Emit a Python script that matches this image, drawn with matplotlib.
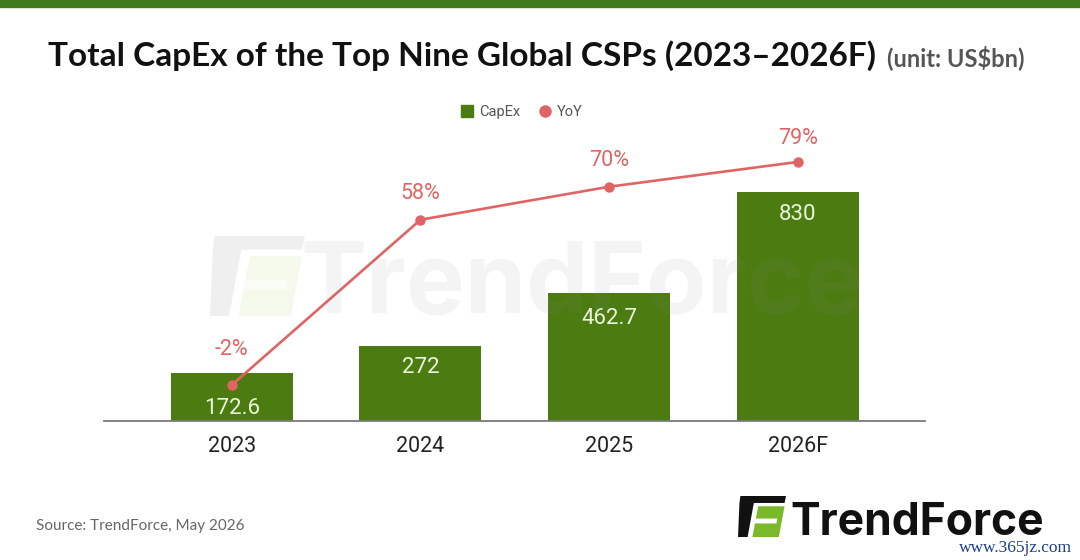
import numpy as np
import matplotlib.pyplot as plt
from matplotlib.patches import Polygon, Rectangle
from matplotlib.lines import Line2D

plt.rcParams['font.family'] = ['Roboto', 'DejaVu Sans']

# data
years = ['2023', '2024', '2025', '2026F']
capex = [172.6, 272, 462.7, 830]
yoy = [-2, 58, 70, 79]
capex_labels = ['172.6', '272', '462.7', '830']
yoy_labels = ['-2%', '58%', '70%', '79%']

GREEN = '#4b7b11'
RED = '#e06464'
W, H = 1080, 560

fig = plt.figure(figsize=(W / 100, H / 100), dpi=100)

# main chart area
ax = fig.add_axes([104 / W, (H - 420.7) / H, 821 / W, 320.7 / H])
x = np.arange(len(years))
ax.bar(x, capex, width=0.647, color=GREEN, zorder=2)
ax.set_xlim(-0.678, 3.675)
ax.set_ylim(0, 1165)
ax.set_xticks(x)
ax.set_xticklabels(years, fontsize=15.5, color='#222222')
ax.tick_params(axis='x', length=0, pad=11)
ax.set_yticks([])
for s in ['top', 'left', 'right']:
    ax.spines[s].set_visible(False)
ax.spines['bottom'].set_color('#7a7a7a')
ax.spines['bottom'].set_linewidth(1.3)

# bar values, inside top of bars
bar_off = [35, 22, 25, 22]
for xi, v, lab, off in zip(x, capex, capex_labels, bar_off):
    ax.annotate(lab, (xi, v), xytext=(0, -off * 0.72), textcoords='offset points',
                ha='center', va='center', fontsize=16, color='#eaf6dc', zorder=3)

# yoy line on secondary axis
ax2 = ax.twinx()
ax2.set_ylim(-15, 101.5)
ax2.plot(x, yoy, color=RED, lw=1.9, marker='o', ms=6.5, zorder=4)
ax2.set_yticks([])
for s in ax2.spines.values():
    s.set_visible(False)
yoy_off = [35, 26, 26, 23]
for xi, v, lab, off in zip(x, yoy, yoy_labels, yoy_off):
    ax2.annotate(lab, (xi, v), xytext=(0, off * 0.72), textcoords='offset points',
                 ha='center', va='center', fontsize=15.5, color=RED)

# legend
handles = [Line2D([], [], marker='s', ls='none', color=GREEN, ms=8),
           Line2D([], [], marker='o', ls='none', color=RED, ms=8)]
fig.legend(handles, ['CapEx', 'YoY'], loc='center', bbox_to_anchor=(521 / W, 1 - 112 / H),
           ncol=2, frameon=False, fontsize=10.5, labelcolor='#555555',
           handletextpad=0.3, columnspacing=1.2, handlelength=1.0)

# decoration layer in pixel coordinates
deco = fig.add_axes([0, 0, 1, 1], zorder=5)
deco.set_xlim(0, W)
deco.set_ylim(H, 0)
deco.axis('off')
deco.patch.set_alpha(0)

deco.add_patch(Rectangle((0, 0), W, 7, color='#3e7a1d'))

deco.text(48, 66, 'Total CapEx of the Top Nine Global CSPs (2023\u20132026F)',
          family=['Lato', 'DejaVu Sans'], fontweight='bold', fontsize=24,
          color='#111111', ha='left', va='baseline')
deco.text(887, 66, '(unit: US$bn)', family=['Lato', 'DejaVu Sans'], fontweight='bold',
          fontsize=17, color='#555555', ha='left', va='baseline')

deco.text(36, 526, 'Source: TrendForce, May 2026', family=['Lato', 'DejaVu Sans'],
          fontsize=11, color='#666666', ha='left', va='center')


def logo(x0, y0, w, h, dark, light, alpha=1.0):
    def pts(p):
        return [(x0 + a * w, y0 + b * h) for a, b in p]
    deco.add_patch(Polygon(pts([(0.05, 0), (1.0, 0), (0.97, 0.17), (0.03, 0.17)]),
                           color=dark, alpha=alpha, lw=0))
    deco.add_patch(Polygon(pts([(0.03, 0.17), (0.33, 0.17), (0.2, 1.0), (0.0, 1.0)]),
                           color=dark, alpha=alpha, lw=0))
    deco.add_patch(Polygon(pts([(0.42, 0.25), (0.97, 0.25), (0.85, 1.0), (0.3, 1.0)]),
                           color=light, alpha=alpha, lw=0))
    deco.add_patch(Polygon(pts([(0.36, 0.55), (0.82, 0.55), (0.8, 0.67), (0.34, 0.67)]),
                           color='white', alpha=alpha, lw=0))


# faint watermark in the middle
logo(210, 236, 95, 80, '#e2e2e2', '#eef5dd', alpha=0.55)
deco.text(300, 313, 'TrendForce', family=['Inter', 'DejaVu Sans'], fontweight='bold',
          fontsize=71, color='#8a8a8a', alpha=0.09, ha='left', va='baseline')

# bottom right logo
logo(738, 496, 48, 41, '#111111', '#7ab929')
deco.text(790, 535, 'TrendForce', family=['Inter', 'DejaVu Sans'], fontweight='bold',
          fontsize=32, color='#111111', ha='left', va='baseline')
deco.text(1072, 548, 'www.365jz.com', family=['Liberation Serif', 'DejaVu Serif'],
          fontsize=12.5, color='#1d3f8f', ha='right', va='center')

fig.savefig('out.png', dpi=100)
